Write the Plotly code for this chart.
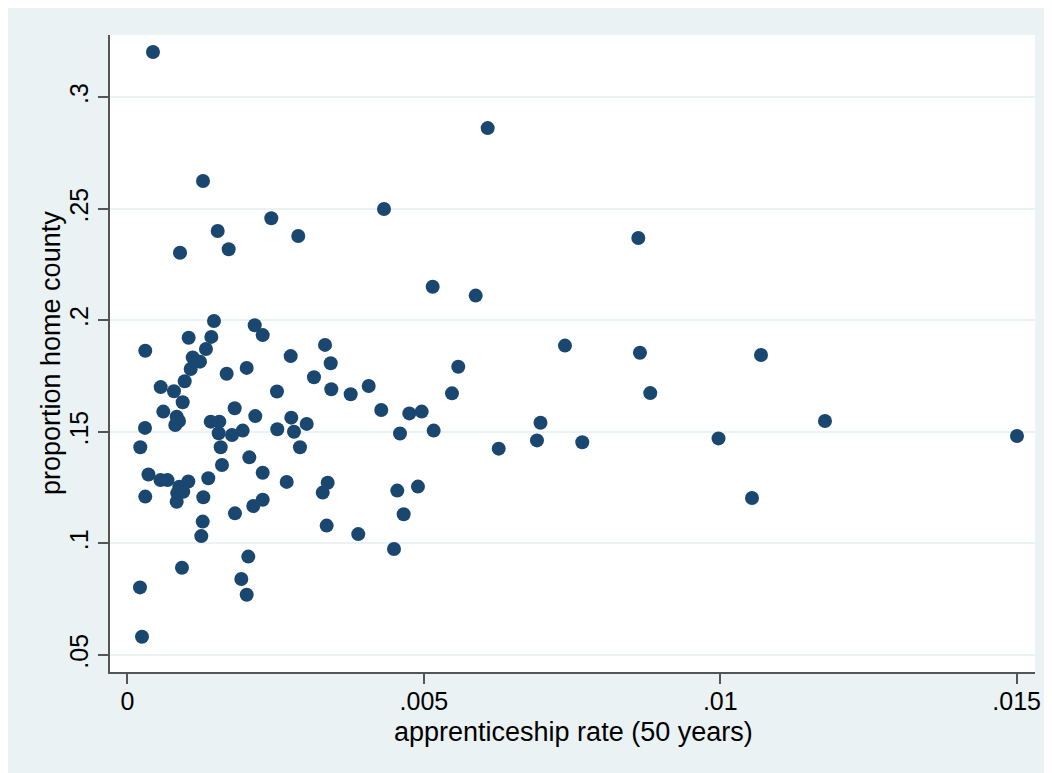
import plotly.graph_objects as go

# apprenticeship rate (50 years)
apprenticeship_rate = [
    0.00043, 0.006076, 0.001274, 0.004327, 0.002426, 0.001522, 0.002881, 0.008617, 0.001707, 0.000886,
    0.005148, 0.005874, 0.001459, 0.002146, 0.002281, 0.001032, 0.001414, 0.003332, 0.00738, 0.0003,
    0.001324, 0.008645, 0.010687, 0.002753, 0.0011, 0.001223, 0.003428, 0.00558, 0.001066, 0.002011,
    0.001673, 0.003146, 0.000965, 0.00056, 0.004069, 0.000784, 0.002522, 0.003438, 0.003765, 0.005474,
    0.008819, 0.000931, 0.001808, 0.000604, 0.004281, 0.004754, 0.004963, 0.002156, 0.002763, 0.00083,
    0.000869, 0.000806, 0.001404, 0.001549, 0.011766, 0.003023, 0.006967, 0.000295, 0.002527, 0.001943,
    0.002809, 0.005165, 0.001538, 0.001763, 0.004597, 0.015005, 0.00997, 0.006908, 0.007672, 0.000216,
    0.001572, 0.00291, 0.006262, 0.002055, 0.001594, 0.002281, 0.000354, 0.000557, 0.000675, 0.001026,
    0.001363, 0.002686, 0.003377, 0.000874, 0.000941, 0.00084, 0.003293, 0.0049, 0.004551, 0.0003,
    0.00083, 0.001279, 0.002281, 0.002122, 0.010535, 0.001813, 0.004659, 0.001269, 0.00336, 0.001245,
    0.003893, 0.004496, 0.002038, 0.000919, 0.00192, 0.000211, 0.002011, 0.000245,
]

# proportion home county
proportion_home = [
    0.3203, 0.2862, 0.2625, 0.2499, 0.2458, 0.2401, 0.2378, 0.2369, 0.2319, 0.2303,
    0.2151, 0.2111, 0.1997, 0.1978, 0.1934, 0.1922, 0.1926, 0.1890, 0.1887, 0.1864,
    0.1872, 0.1855, 0.1845, 0.1840, 0.1834, 0.1815, 0.1808, 0.1792, 0.1782, 0.1787,
    0.1761, 0.1745, 0.1727, 0.1701, 0.1706, 0.1682, 0.1681, 0.1691, 0.1669, 0.1673,
    0.1674, 0.1633, 0.1606, 0.1591, 0.1598, 0.1583, 0.1591, 0.1571, 0.1564, 0.1568,
    0.1549, 0.1531, 0.1546, 0.1546, 0.1549, 0.1536, 0.1541, 0.1518, 0.1512, 0.1506,
    0.1501, 0.1506, 0.1494, 0.1486, 0.1493, 0.1482, 0.1471, 0.1462, 0.1454, 0.1431,
    0.1431, 0.1431, 0.1425, 0.1386, 0.1352, 0.1317, 0.1309, 0.1284, 0.1284, 0.1278,
    0.1292, 0.1276, 0.1272, 0.1254, 0.1232, 0.1225, 0.1228, 0.1255, 0.1237, 0.1210,
    0.1187, 0.1207, 0.1196, 0.1168, 0.1204, 0.1135, 0.1131, 0.1098, 0.1080, 0.1033,
    0.1042, 0.0975, 0.0941, 0.0891, 0.0841, 0.0803, 0.0770, 0.0582,
]

x_tickvals = [0, 0.005, 0.01, 0.015]
x_ticktext = ["0", ".005", ".01", ".015"]
y_tickvals = [0.05, 0.10, 0.15, 0.20, 0.25, 0.30]
y_ticktext = [".05", ".1", ".15", ".2", ".25", ".3"]
x_title = "apprenticeship rate (50 years)"
y_title = "proportion home county"

# page body has an 8px margin; figure is sized so it fills the window
OFF = 8
W, H = 1052 - OFF, 773 - OFF
L, R, T, B = 110 - OFF, 1035 - OFF, 35 - OFF, 672 - OFF
OUTER = "#eaf2f3"
NAVY = "#1a476f"
AXIS = "#555555"
FONT = "Liberation Sans, Arial, sans-serif"


def px_x(p):
    return (p - OFF - L) / (R - L)


def px_y(p):
    return (B - (p - OFF)) / (B - T)


fig = go.Figure(
    go.Scatter(
        x=apprenticeship_rate,
        y=proportion_home,
        mode="markers",
        marker=dict(color=NAVY, size=14, line=dict(width=0)),
        hoverinfo="x+y",
    )
)

fig.update_layout(
    width=W,
    height=H,
    margin=dict(l=L, r=W - R, t=T, b=H - B, pad=0),
    paper_bgcolor=OUTER,
    plot_bgcolor="white",
    showlegend=False,
    font=dict(family=FONT, color="black", size=25),
    annotations=[
        dict(text=x_title, xref="paper", yref="paper", x=px_x(573), y=px_y(732),
             xanchor="center", yanchor="middle", showarrow=False,
             font=dict(size=27, family=FONT, color="black")),
        dict(text=y_title, xref="paper", yref="paper", x=px_x(51), y=px_y(353),
             xanchor="center", yanchor="middle", showarrow=False, textangle=-90,
             font=dict(size=27, family=FONT, color="black")),
    ],
)

fig.update_xaxes(
    range=[-0.000295, 0.015309],
    tickmode="array",
    tickvals=x_tickvals,
    ticktext=x_ticktext,
    showgrid=False,
    zeroline=False,
    showline=True,
    linecolor=AXIS,
    linewidth=1.5,
    ticks="outside",
    ticklen=10,
    tickwidth=1.5,
    tickcolor=AXIS,
    ticklabelstandoff=-4,
    tickfont=dict(size=25, family=FONT, color="black"),
)

fig.update_yaxes(
    range=[0.04238, 0.32793],
    tickmode="array",
    tickvals=y_tickvals,
    ticktext=y_ticktext,
    tickangle=-90,
    showgrid=True,
    gridcolor=OUTER,
    gridwidth=2,
    zeroline=False,
    showline=True,
    linecolor=AXIS,
    linewidth=1.5,
    ticks="outside",
    ticklen=10,
    tickwidth=1.5,
    tickcolor=AXIS,
    ticklabelstandoff=0,
    tickfont=dict(size=25, family=FONT, color="black"),
)

fig.write_html("out.html")
